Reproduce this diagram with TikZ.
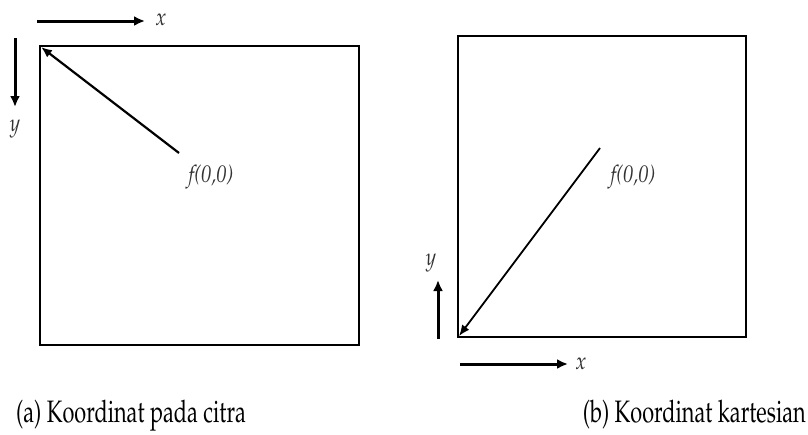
\documentclass[tikz,border=0pt]{standalone}
\usepackage[T1]{fontenc}
\usepackage{mathpazo}
\usetikzlibrary{arrows.meta}
\begin{document}
\begin{tikzpicture}[x=1pt,y=-1pt,
  frame/.style={draw=black,line width=1.7},
  axis/.style={line width=3,-{Latex[length=11,width=10]}},
  diag/.style={line width=2.2,-{Latex[length=11,width=9]}},
  lab/.style={font=\itshape\fontsize{24}{26}\selectfont,text=black!80,inner sep=0,xscale=0.85},
  captext/.style={font=\fontsize{31}{33}\selectfont,inner sep=0,xscale=0.7}]
\useasboundingbox (0,0) rectangle (808,434);
% left picture
\draw[frame] (40,46) rectangle (359,345);
\coordinate (ltl) at (41,47);
\coordinate (lxs) at (37,21); \coordinate (lxe) at (145,21);
\coordinate (lys) at (15,38); \coordinate (lye) at (15,107);
\draw[axis] (lxs) -- (lxe);
\draw[axis] (lys) -- (lye);
\node[lab] (lx) at (161,20) {x};
\node[lab] (ly) at (15,129) {y};
\coordinate (lds) at (179,153);
\draw[diag] (lds) -- (ltl);
\node[lab] (lf) at (211,177) {f(0,0)};
% right picture
\draw[frame] (458,36) rectangle (746,337);
\coordinate (rbl) at (459,336);
\coordinate (rds) at (600,148);
\draw[diag,line width=1.8] (rds) -- (rbl);
\node[lab] (rf) at (633,177) {f(0,0)};
\coordinate (rys) at (438,339); \coordinate (rye) at (438,280);
\coordinate (rxs) at (460,364); \coordinate (rxe) at (568,364);
\draw[axis] (rys) -- (rye);
\draw[axis] (rxs) -- (rxe);
\node[lab] (ry) at (431,263) {y};
\node[lab] (rx) at (581,364) {x};
% captions
\node[captext,anchor=base west] (ca) at (16,422) {(a) Koordinat pada citra};
\node[captext,anchor=base east] (cb) at (806,422) {(b) Koordinat kartesian};
\end{tikzpicture}
\end{document}
